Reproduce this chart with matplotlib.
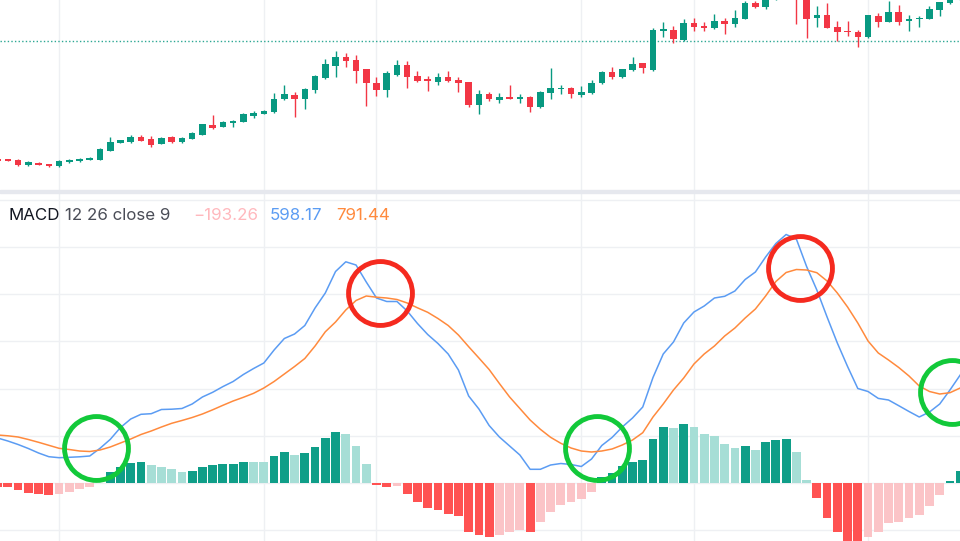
import matplotlib
matplotlib.use('Agg')
import matplotlib.pyplot as plt
import numpy as np
from matplotlib.patches import Rectangle

# ---------------- data (price levels, arbitrary units) ----------------
opens = [31, 31, 29.7, 25, 27.3, 26, 23.7, 27.7, 28.7, 30,
         30, 39.3, 47, 48, 53.3, 51, 46, 53, 48, 51,
         55, 65.3, 63, 67.3, 68.3, 74.3, 76.3, 77.7, 90.7, 95.3,
         90.7, 100, 111.7, 124.3, 132.7, 130, 120.7, 107.3, 100, 115,
         124.7, 114, 110.7, 107.7, 112.7, 110, 107.7, 85.3, 95.7, 90.3,
         93.3, 91.3, 93.3, 82.7, 96.7, 100.7, 102.3, 95, 96.7, 106.7,
         118, 112.7, 119.7, 126.7, 120, 159, 160, 150, 166.7, 164.3,
         161.7, 169.3, 165.7, 171, 186.7, 183.3, 191, 200, 198, 193,
         171.7, 175, 162.7, 159, 158.3, 152.7, 174.3, 168.3, 178.3, 168.7,
         170.7, 171, 180, 186.7, 191]
highs = [31.5, 31.3, 31.3, 28.7, 27.7, 26.3, 29.7, 31.3, 31.7, 32.7,
         42, 52.7, 50, 55, 55, 54, 52.7, 54, 52.7, 57.7,
         66.3, 74.7, 68.7, 69.7, 77, 78.7, 79.7, 96.7, 105, 98,
         102, 115.3, 131, 139, 136.7, 135, 121, 112.7, 119.3, 130,
         128.7, 119.3, 114, 116.7, 119.3, 112.7, 108, 100, 98, 96.7,
         105, 95.7, 93.7, 99.3, 122, 105, 102.7, 104.3, 110, 118.7,
         123.3, 121, 133.3, 127, 161.7, 168.3, 164, 170.7, 171.7, 167.7,
         176, 171.7, 180, 189, 189, 195, 202, 204, 200, 196,
         184, 186.7, 169.3, 169.3, 160, 175.3, 176.7, 189, 185, 175,
         174, 184, 188, 193, 198]
lows = [29, 28.7, 24.3, 23.7, 25, 23.3, 23.3, 27.3, 28.3, 29.7,
        29.7, 39, 46.7, 47.3, 48.7, 43, 45.7, 47, 47, 50.7,
        54.7, 61.3, 62.7, 62.7, 68, 72.3, 76, 77.3, 90.3, 73.3,
        81.3, 97.3, 111, 112.7, 123.3, 106.7, 84, 94.3, 93.3, 114,
        102.3, 107.7, 99.3, 105, 108.3, 98, 82.7, 76, 89, 86.7,
        90.7, 86.7, 78.3, 81.7, 90.7, 95.7, 91.7, 93.3, 96.3, 106.3,
        111.3, 112.3, 119.3, 116.7, 119.3, 152.7, 147.3, 149, 159, 159,
        161, 156, 163.3, 170.7, 181.7, 180.7, 190.5, 191, 165.7, 152.3,
        163.3, 161.7, 149, 154, 143.3, 152.3, 163.3, 168, 165, 159.3,
        163.3, 170.7, 174, 185.7, 190.5]
closes = [29.5, 29, 25, 27.7, 25.3, 23.7, 28.7, 30, 31.3, 31.7,
          41, 48.3, 49.7, 52.7, 49.3, 45.3, 52.3, 48.3, 52.3, 56.7,
          65.7, 62.3, 68, 69.3, 76.3, 77.3, 79.3, 91.3, 95.7, 90.7,
          100.7, 114, 126, 132.7, 128.7, 119.3, 106.7, 100, 116.7, 124.7,
          112.7, 109, 109, 112.7, 109, 106.7, 85, 95.7, 90.7, 93.3,
          91.3, 93.3, 82.7, 98.3, 102.3, 102.3, 95.7, 98.3, 107.3, 118,
          112.7, 120.7, 125.7, 121.7, 160, 160.7, 151, 166.7, 163.3, 162,
          169.3, 165.7, 171.7, 186.7, 182.7, 192, 198, 195, 192, 171,
          175, 161.7, 158.3, 157.7, 152.7, 175, 168.3, 178.3, 168.3, 170.7,
          172.3, 181, 187.7, 191, 196]
price_line = 149

# MACD(12, 26, close, 9) values
macd_line = [45, 42, 38.5, 34.5, 30, 26.3, 25.3, 25.7, 26.2, 27,
             34.7, 43.6, 55.5, 64, 68.7, 69.3, 73.5, 73.8, 74.5, 79,
             86, 90.7, 96.4, 101.5, 108.5, 114.5, 120, 133, 144.5, 149,
             157.5, 175, 190, 211.5, 221.2, 218, 201, 185, 181.5, 181.5,
             172, 159.5, 148.5, 139.5, 129, 113, 87, 74, 57.5, 46,
             37, 28, 13.7, 13.7, 18, 19.5, 18.5, 16.5, 24, 37.5,
             45.5, 56, 65, 76, 105.5, 129, 141, 160, 171, 177,
             185, 186.7, 192, 203.5, 211, 226, 239.5, 248.5, 244, 216.5,
             193, 166, 140, 116.5, 94.5, 91.5, 84.6, 83, 77.3, 71.5,
             66, 71, 79, 93, 108]
signal_line = [48, 47.2, 46, 43.5, 40.7, 37.7, 34.7, 33.5, 32, 31.5,
               33, 36, 40, 44, 48.5, 52, 56, 59.7, 62.5, 65.5,
               69, 73.2, 77.7, 82, 85.7, 89.7, 95, 101.5, 109, 116.5,
               124.5, 137, 151.2, 161, 173, 182.5, 187, 185.8, 185, 183.5,
               180, 175.2, 170.7, 164.5, 157.5, 148, 136.3, 125, 113.5, 99.5,
               86, 74.5, 63, 53.7, 45.7, 39.7, 35, 32, 31, 32,
               34, 38, 43, 50.3, 66, 79, 93, 105, 119, 129,
               137, 147, 155, 165, 174, 187, 201.5, 210.5, 213.5, 213,
               210.3, 202, 190, 176, 160, 142, 130, 123, 115.5, 107,
               97, 91.5, 89, 90.3, 95]
histogram = [-3.7, -4.3, -7, -9.7, -11, -12.3, -11, -8.7, -5.7, -4.3,
             0.3, 11, 16.3, 20.3, 20.6, 18, 16.3, 13.7, 11, 12.3,
             16.3, 17.7, 19, 19.2, 21.3, 21.1, 20.9, 27, 30.7, 28,
             29.7, 36.3, 45.3, 50.7, 49, 37.3, 19, -1.7, -4.3, -2.7,
             -11, -18.7, -25.3, -27, -30.7, -33.3, -49.3, -52, -54.3, -52,
             -49.3, -47, -49.3, -38.7, -29.3, -21.7, -19, -16, -8.7, 5.7,
             9.7, 17, 21.3, 22.7, 44.3, 56, 54.7, 58.7, 56, 49,
             47, 39, 35, 37.3, 33.3, 41.3, 42.7, 44, 30.7, 3,
             -15, -34.7, -49.3, -62, -64, -54.3, -49.3, -40, -38.7, -34.7,
             -32, -23, -12, 2, 12.3]

# highlighted crossovers (bar index, MACD level, colour)
cross_idx = [9.6, 37.3, 58.5, 78.4, 93.2]
cross_val = [35, 190, 35, 215, 91]
cross_col = ['#12c93a', '#f52a1f', '#12c93a', '#f52a1f', '#12c93a']

time_grid = [6, 26, 37, 57, 68, 85]
label_parts = ['MACD', '12 26 close 9', '\u2212193.26', '598.17', '791.44']

# ---------------- styles ----------------
GREEN = '#089981'
RED = '#f23645'
H_UP, H_UP_L = '#0f9e88', '#a6ded6'
H_DN, H_DN_L = '#ff5252', '#fbc4c7'
GRID = '#eef0f3'

W, H = 960, 541
fig = plt.figure(figsize=(W / 100, H / 100), dpi=100)
fig.patch.set_facecolor('white')
top_h, sep = 190, 3
ax1 = fig.add_axes([0, 1 - top_h / H, 1, top_h / H])
ax2 = fig.add_axes([0, 0, 1, (H - top_h - sep) / H])

xlim = (0.234, 93.98)
idx = np.arange(len(opens))

for ax in (ax1, ax2):
    ax.set_facecolor('white')
    for s in ax.spines.values():
        s.set_visible(False)
    ax.set_xticks([])
    ax.set_yticks([])
    ax.set_xlim(*xlim)
    for g in time_grid:
        ax.axvline(g, color=GRID, lw=1.0, zorder=0)

# ---- candles ----
o = np.array(opens); c = np.array(closes)
hi = np.array(highs); lo = np.array(lows)
cols = np.where(c >= o, GREEN, RED)
ax1.axhline(price_line, color=GREEN, lw=1.0, ls=(0, (1, 1.6)), zorder=1, alpha=0.85)
ax1.vlines(idx, lo, hi, colors=cols, lw=1.0, zorder=2)
body_b = np.minimum(o, c)
body_h = np.maximum(np.abs(c - o), 0.9)
ax1.bar(idx, body_h, bottom=body_b, width=0.64, color=cols, linewidth=0, zorder=3)
ax1.set_ylim(0, 190)

# ---- MACD pane ----
hist = np.array(histogram)
hcols = []
prev = hist[0] + 1.0
for v in hist:
    if v >= 0:
        hcols.append(H_UP if v >= prev else H_UP_L)
    else:
        hcols.append(H_DN_L if v >= prev else H_DN)
    prev = v

step = 47.2
for k in range(-1, 7):
    ax2.axhline(k * step, color=GRID, lw=1.0, zorder=0)

ax2.bar(idx, hist, width=0.86, color=hcols, linewidth=0, zorder=2)
ax2.plot(idx, macd_line, color='#5b9cf3', lw=1.1, zorder=3, solid_joinstyle='round')
ax2.plot(idx, signal_line, color='#ff8a3d', lw=1.1, zorder=3, solid_joinstyle='round')
for xi, yv, cc in zip(cross_idx, cross_val, cross_col):
    ax2.plot([xi], [yv], marker='o', ms=46, mfc='none', mec=cc, mew=3.5, zorder=5)
ax2.set_ylim(-58, 290)

# pane separator
fig.add_artist(Rectangle((0, 1 - (top_h + sep) / H), 1, sep / H,
                         transform=fig.transFigure, color='#e6e8ee', zorder=10))

# legend text of the MACD pane
fam = ['Inter', 'DejaVu Sans']
text_x = [8, 65, 193, 270, 336]
text_c = ['#131722', '#4a4d57', '#ffb8bd', '#5b9cf3', '#ff8a3d']
for t, xp, tc in zip(label_parts, text_x, text_c):
    fig.text(xp / W, (H - 220) / H, t, color=tc, fontsize=12.2, family=fam,
             ha='left', va='baseline')

fig.savefig('out.png', dpi=100, facecolor='white')
